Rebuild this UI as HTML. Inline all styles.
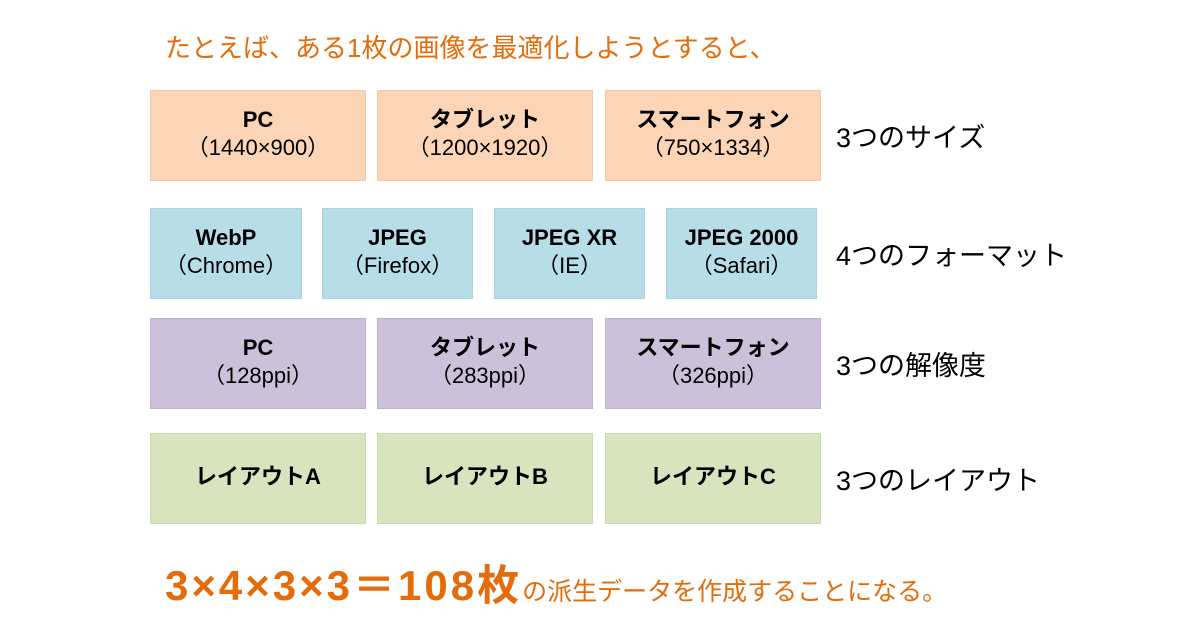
<!DOCTYPE html><html><head><meta charset="utf-8"><style>
body{margin:0;width:1200px;height:630px;background:#fff;position:relative;overflow:hidden;font-family:"Liberation Sans","Noto Sans CJK JP",sans-serif}
.b{position:absolute;display:flex;flex-direction:column;justify-content:center;align-items:center;text-align:center;color:#000;font-size:22px;line-height:28px;box-sizing:border-box;padding-bottom:4px}
.b b{font-size:22px}
.o{background:#FBD5B5;border:1px solid #f6c8a8}.c{background:#B7DDE8;border:1px solid #a8d3e0}.p{background:#CCC0DA;border:1px solid #bfb2d0}.g{background:#D7E4BD;border:1px solid #cadbb0}
.l{position:absolute;font-size:27px;color:#000;left:836px}
</style></head><body>
<div style="position:absolute;left:165px;top:28px;font-size:26px;color:#E46C0A">たとえば、ある1枚の画像を最適化しようとすると、</div>
<div class="b o" style="left:150px;top:90px;width:216px;height:91px"><b>PC</b>（1440×900）</div>
<div class="b o" style="left:377px;top:90px;width:216px;height:91px"><b>タブレット</b>（1200×1920）</div>
<div class="b o" style="left:605px;top:90px;width:216px;height:91px"><b>スマートフォン</b>（750×1334）</div>
<div class="l" style="top:116px">3つのサイズ</div>
<div class="b c" style="left:150px;top:208px;width:152px;height:91px"><b>WebP</b>（Chrome）</div>
<div class="b c" style="left:322px;top:208px;width:151px;height:91px"><b>JPEG</b>（Firefox）</div>
<div class="b c" style="left:494px;top:208px;width:151px;height:91px"><b>JPEG XR</b>（IE）</div>
<div class="b c" style="left:666px;top:208px;width:151px;height:91px"><b>JPEG 2000</b>（Safari）</div>
<div class="l" style="top:234px">4つのフォーマット</div>
<div class="b p" style="left:150px;top:318px;width:216px;height:91px"><b>PC</b>（128ppi）</div>
<div class="b p" style="left:377px;top:318px;width:216px;height:91px"><b>タブレット</b>（283ppi）</div>
<div class="b p" style="left:605px;top:318px;width:216px;height:91px"><b>スマートフォン</b>（326ppi）</div>
<div class="l" style="top:344px">3つの解像度</div>
<div class="b g" style="left:150px;top:433px;width:216px;height:91px"><b>レイアウトA</b></div>
<div class="b g" style="left:377px;top:433px;width:216px;height:91px"><b>レイアウトB</b></div>
<div class="b g" style="left:605px;top:433px;width:216px;height:91px"><b>レイアウトC</b></div>
<div class="l" style="top:459px">3つのレイアウト</div>
<div style="position:absolute;left:165px;top:552px;color:#E46C0A;font-size:25px;white-space:nowrap"><b style="font-size:42px;letter-spacing:3px">3×4×3×3＝108枚</b>の派生データを作成することになる。</div>
</body></html>
